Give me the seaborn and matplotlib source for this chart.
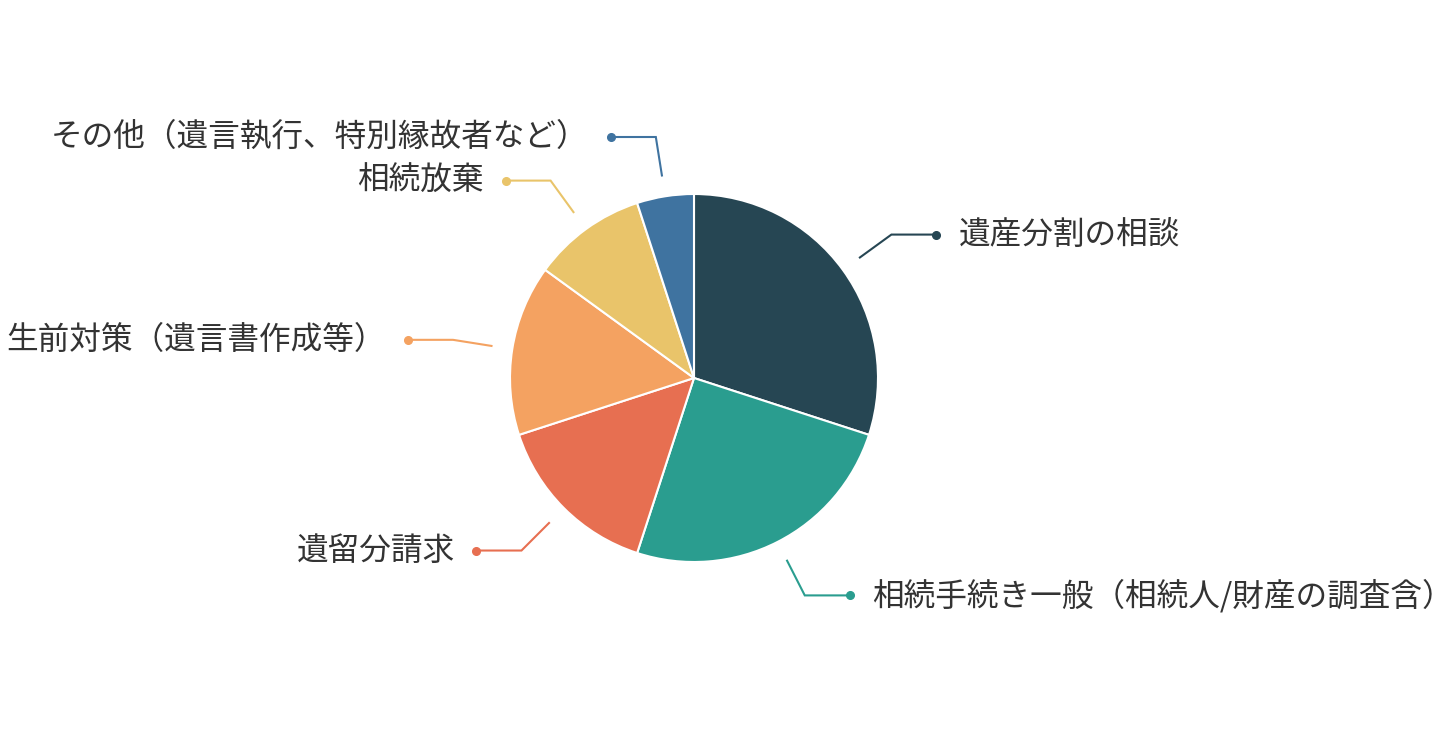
import numpy as np
import matplotlib
matplotlib.use("Agg")
import matplotlib.pyplot as plt
import seaborn as sns

# -----------------------------
# data
# -----------------------------
categories = [
    "遺産分割の相談",
    "相続手続き一般（相続人/財産の調査含）",
    "遺留分請求",
    "生前対策（遺言書作成等）",
    "相続放棄",
    "その他（遺言執行、特別縁故者など）",
]
shares = [30, 25, 15, 15, 10, 5]
colors = ["#264653", "#2a9d8f", "#e76f51", "#f4a261", "#e9c46a", "#3f73a0"]

sns.set_theme(style="white")
plt.rcParams["font.family"] = ["Noto Sans CJK JP", "DejaVu Sans"]

W, H = 1436, 736
fig = plt.figure(figsize=(W / 100, H / 100), dpi=100)
ax = fig.add_axes([0, 0, 1, 1])

cx, cy, r = 694, H - 378, 184
wedges, _ = ax.pie(
    shares,
    colors=colors,
    startangle=90,
    counterclock=False,
    center=(cx, cy),
    radius=r,
    wedgeprops=dict(edgecolor="white", linewidth=1.5),
)

# leader lines + labels
r1, r2, seg, gap = r + 20, r + 60, 45, 22
for w, label, col in zip(wedges, categories, colors):
    mid = np.deg2rad((w.theta1 + w.theta2) / 2)
    c, s = np.cos(mid), np.sin(mid)
    p1 = (cx + r1 * c, cy + r1 * s)
    p2 = (cx + r2 * c, cy + r2 * s)
    side = 1 if c >= 0 else -1
    p3 = (p2[0] + side * seg, p2[1])
    ax.plot([p1[0], p2[0], p3[0]], [p1[1], p2[1], p3[1]], color=col, lw=1.5,
            solid_capstyle="butt", solid_joinstyle="miter")
    ax.plot(p3[0], p3[1], "o", color=col, ms=5.5)
    ax.text(p3[0] + side * gap, p3[1], label, fontsize=22.8, color="#333333",
            ha="left" if side > 0 else "right", va="center")

ax.set_xlim(0, W)
ax.set_ylim(0, H)
ax.set_aspect("equal")
ax.axis("off")

fig.savefig("out.png", dpi=100, facecolor="white")
